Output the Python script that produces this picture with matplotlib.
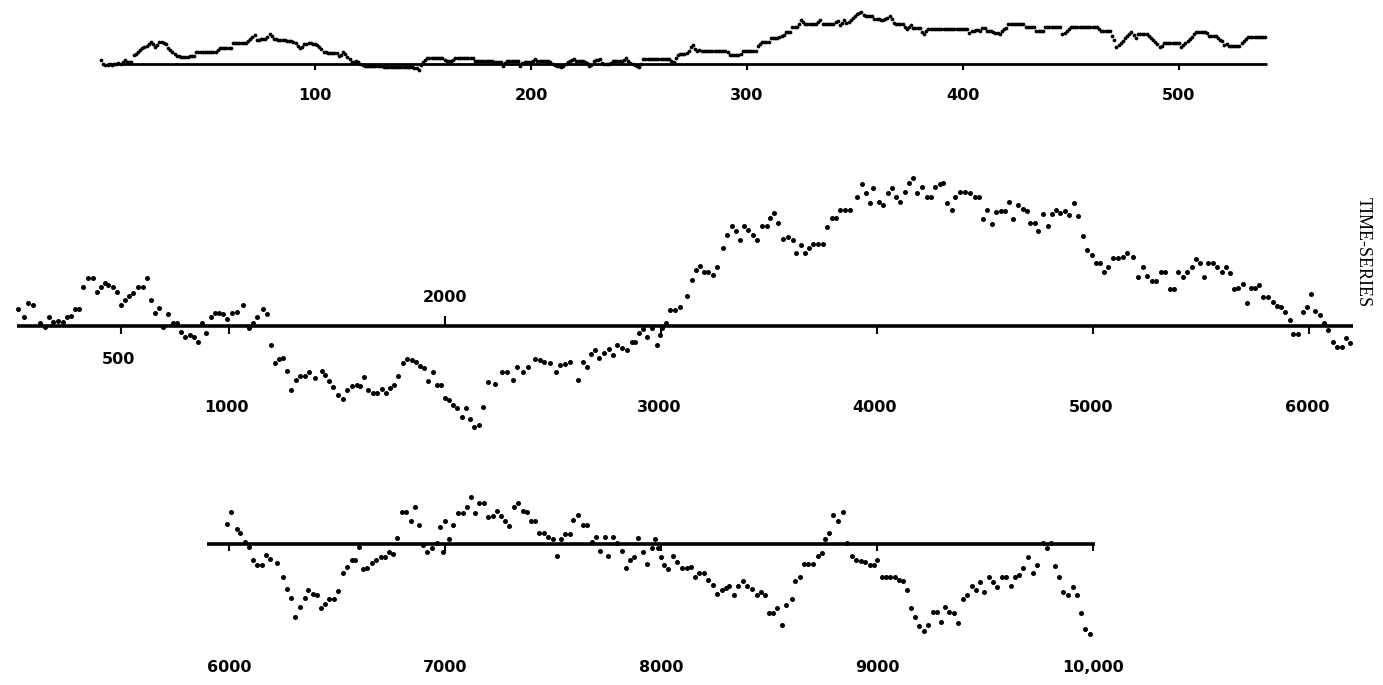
import numpy as np
import matplotlib
matplotlib.use("Agg")
import matplotlib.pyplot as plt

W, H = 1383, 685

# ---------------- data ----------------
# top panel: observations 1..540 (height above the baseline)
top_values = [
    4,
    0, -1, -1, 0, -1, 0, 0, 1, 0,
    2, 4, 2, 2, 2,
    9, 10, 12, 14, 16, 17, 18, 20, 22,
    20, 17, 19, 22, 22, 21, 20, 16, 14, 12, 10,
    8, 8, 7, 7, 7, 7, 8, 8, 8,
    12, 12, 12, 12, 12, 12, 12, 12, 12, 12,
    14, 16, 16, 16, 16, 16, 16,
    21, 21, 21, 21, 21, 21, 21, 23, 25, 27, 29,
    24, 24, 25, 25, 25, 27, 30, 28,
    25, 25, 24, 24, 24, 24, 23, 23, 23, 22, 21, 18, 16, 17,
    20, 20, 21, 21, 20, 20, 19, 17, 15,
    12, 12, 11, 11, 11, 11, 11,
    8, 9, 12, 10, 7, 5, 2, 2, 3, 2, 0,
    -1, -2, -2, -2, -2, -2, -2, -2, -2, -2, -3, -3, -3, -3, -3, -3, -3, -3, -3, -3, -3, -3, -3, -3, -4, -4,
    -6, -1, 2, 4,
    6, 6, 6, 6, 6, 6, 6, 6,
    4, 3, 3, 3, 4,
    6, 6, 6, 6, 6, 6, 6, 6, 6,
    3, 3, 3, 3, 3, 3, 3, 3, 3, 2, 2, 2, 2,
    -2, 1, 3, 3, 3, 3, 3,
    3, -2, 1, 2, 2, 2, 2, 3,
    5, 3, 3, 3, 3, 3, 3, 2,
    0, -1, -2, -2, -3, -2, 0,
    2, 3, 4, 5, 3, 3, 3, 3, 2, 1,
    -2, -1, 3, 4, 4, 5, 1, 0, 0, 0, 1,
    3, 3, 3, 3, 3, 4, 6, 3,
    1, 0, -1, -2, -3, 0,
    5, 5, 5, 5, 5, 5, 5, 5, 5, 5, 5, 5, 5,
    3, 2, 6, 9, 10, 10, 10, 11, 13, 17, 19, 15,
    13, 14, 13, 13, 13, 13, 13, 13, 13, 13, 13, 13, 13, 13, 12,
    9, 9, 9, 9, 9, 10,
    13, 13, 13, 13, 13, 13, 13,
    18, 20, 22, 22, 22, 22, 26, 26, 26, 26, 27, 28, 29,
    32, 32, 32, 37, 37, 37, 40, 44, 42,
    40, 40, 40, 40, 40, 40, 42, 44,
    40, 40, 40, 40, 40, 40, 42, 43, 39, 41, 44,
    41, 42, 44, 46, 48, 50, 51, 52,
    49, 48, 48, 48, 48, 45, 45, 45, 44, 44, 45,
    46, 48, 45, 41, 40, 40, 40, 40,
    37, 35, 37, 39, 36, 36, 36, 36, 32, 30, 33,
    35, 35, 35, 35, 35, 35, 35, 35, 35, 35, 35, 35, 35, 35, 35, 35, 35, 35, 35,
    31, 33, 33, 34, 34, 33, 36, 36,
    33, 33, 33, 32, 31, 31, 30, 33, 35, 36,
    40, 40, 40, 40, 40, 40, 40, 40, 37, 37, 37, 37, 37,
    33, 33, 33, 33, 37, 37, 37, 37, 37, 37, 37, 37,
    30, 31, 33, 35,
    37, 37, 37, 37, 37, 37, 37, 37, 37, 37, 37, 37, 37,
    35, 33, 33, 33, 33, 33,
    28, 24, 17, 19, 21, 23, 26, 28, 30, 32, 29, 26,
    30, 30, 30, 30, 30, 28, 26, 24, 22, 20, 17, 18,
    21, 21, 21, 21, 21, 21, 21, 21,
    17, 19, 21, 23, 25, 27,
    30, 32, 32, 32, 32, 32, 31,
    28, 28, 28, 28, 26, 24, 23, 19, 20,
    18, 18, 18, 18, 18, 18, 21, 23, 25,
    27, 27, 27, 27, 27, 27, 27, 27, 27,
]
top_ticks = [100, 200, 300, 400, 500]
top_labels = ["100", "200", "300", "400", "500"]

# middle panel: 0 .. 6200
mid_t = [24, 51, 71, 91, 125, 148, 168, 187, 210, 233, 248, 267, 287, 307, 326, 349, 369, 387, 406, 426,
         441, 461, 480, 498, 518, 538, 557, 580, 600, 619, 637, 657, 677, 696, 719, 739, 758, 778, 796, 819,
         838, 858, 873, 893, 915, 935, 955, 974, 992, 1015, 1035, 1066, 1094, 1112, 1131, 1159, 1174,
         1193, 1213, 1232, 1248, 1270, 1285, 1310, 1329, 1352, 1372, 1398, 1429, 1444, 1464, 1480, 1506, 1526,
         1545, 1568, 1591, 1606, 1625, 1645, 1668, 1687, 1707, 1727, 1745, 1764, 1784, 1804, 1822, 1845, 1865,
         1884, 1903, 1923, 1943, 1961, 1980, 2000, 2020, 2038, 2054, 2077, 2097, 2116, 2134, 2159, 2177, 2201,
         2231, 2262, 2285, 2316, 2332, 2360, 2386, 2417, 2440, 2458, 2486, 2514, 2532, 2555, 2579, 2614, 2637,
         2656, 2674, 2694, 2714, 2736, 2761, 2776, 2795, 2818, 2841, 2864, 2880, 2900, 2918, 2937, 2957, 2980,
         2995, 3003, 3023, 3042, 3065, 3088, 3119, 3142, 3162, 3181, 3199, 3219, 3239, 3261, 3285, 3304, 3327,
         3347, 3366, 3384, 3404, 3424, 3446, 3466, 3489, 3505, 3523, 3543, 3563, 3589, 3609, 3625, 3646, 3667,
         3687, 3705, 3728, 3748, 3767, 3790, 3810, 3829, 3852, 3875, 3906, 3929, 3949, 3968, 3983, 4011, 4029,
         4052, 4068, 4088, 4106, 4129, 4150, 4168, 4187, 4207, 4230, 4248, 4268, 4292, 4307, 4326, 4346, 4361,
         4384, 4407, 4431, 4454, 4474, 4489, 4511, 4531, 4551, 4573, 4593, 4613, 4631, 4651, 4674, 4693, 4708,
         4731, 4747, 4770, 4790, 4809, 4829, 4847, 4870, 4890, 4912, 4932, 4952, 4971, 4994, 5014, 5032, 5051,
         5071, 5094, 5117, 5137, 5159, 5184, 5210, 5233, 5252, 5272, 5292, 5313, 5333, 5357, 5375, 5395, 5415,
         5437, 5457, 5477, 5495, 5514, 5534, 5557, 5576, 5596, 5616, 5634, 5653, 5673, 5693, 5711, 5730, 5750,
         5770, 5789, 5812, 5832, 5850, 5869, 5889, 5912, 5927, 5951, 5974, 5989, 6008, 6028, 6051, 6069, 6090,
         6110, 6131, 6151, 6171, 6190]
mid_v = [17, 9, 23, 21, 3, -1, 9, 4, 5, 4, 9, 10, 17, 17, 39, 48, 48, 34, 39, 43,
         41, 39, 34, 21, 26, 30, 33, 39, 39, 48, 26, 13, 18, -1, 12, 3, 3, -6, -11, -9,
         -11, -16, 3, -7, 9, 13, 13, 12, 7, 13, 14, 21, -2, 3, 9, 17, 12,
         -19, -37, -33, -32, -45, -64, -54, -50, -50, -46, -52, -45, -49, -55, -61, -69, -73,
         -64, -60, -59, -60, -51, -64, -67, -67, -63, -67, -62, -59, -50, -37, -33, -34, -36,
         -40, -42, -55, -46, -59, -59, -72, -74, -79, -82, -91, -82, -93, -101, -99, -81, -56,
         -58, -46, -46, -54, -41, -46, -41, -33, -34, -36, -37, -46, -39, -38, -36, -54, -36,
         -41, -28, -24, -32, -27, -23, -29, -19, -22, -24, -16, -16, -7, -3, -11, -2, -19,
         -9, -2, 3, 16, 16, 19, 30, 46, 56, 60, 54, 54, 51, 59, 78, 91, 100,
         95, 86, 100, 96, 91, 86, 100, 100, 108, 113, 103, 87, 89, 86, 73, 81, 73,
         78, 82, 82, 82, 99, 108, 108, 116, 116, 116, 129, 142, 133, 123, 138, 124, 121,
         133, 138, 129, 124, 134, 143, 148, 133, 139, 129, 129, 139, 142, 143, 123, 116, 129,
         134, 134, 133, 129, 129, 107, 116, 102, 114, 115, 115, 124, 107, 121, 117, 115, 103,
         103, 95, 112, 100, 112, 116, 113, 115, 111, 123, 110, 90, 76, 71, 63, 63, 54,
         59, 68, 68, 69, 73, 69, 49, 59, 50, 45, 45, 54, 54, 37, 37, 54, 49,
         54, 59, 67, 63, 49, 63, 63, 59, 54, 59, 53, 37, 38, 42, 23, 38, 38,
         41, 29, 29, 24, 20, 19, 14, 6, -8, -8, 14, 19, 32, 15, 11, 3, -4,
         -16, -21, -21, -12, -17]
mid_ticks = [500, 1000, 2000, 3000, 4000, 5000, 6000]
mid_labels = ["500", "1000", "2000", "3000", "4000", "5000", "6000"]

# bottom panel: 6000 .. 10,000
bot_t = [5989, 6008, 6035, 6051, 6074, 6094, 6113, 6128, 6151, 6171, 6190, 6221, 6248, 6267, 6285, 6305,
         6329, 6352, 6367, 6387, 6406, 6424, 6444, 6464, 6486, 6506, 6526, 6545, 6568, 6583, 6603, 6622,
         6640, 6660, 6681, 6702, 6722, 6742, 6761, 6779, 6799, 6819, 6841, 6861, 6881, 6900, 6918, 6938,
         6961, 6977, 6989, 7000, 7020, 7039, 7062, 7082, 7100, 7120, 7139, 7159, 7181, 7201, 7221, 7239,
         7258, 7278, 7298, 7319, 7339, 7360, 7378, 7397, 7417, 7437, 7458, 7478, 7498, 7517, 7535, 7555,
         7579, 7594, 7617, 7640, 7659, 7679, 7699, 7718, 7741, 7756, 7776, 7798, 7818, 7838, 7856, 7875,
         7895, 7918, 7937, 7957, 7972, 7988, 7998, 8014, 8034, 8054, 8073, 8096, 8119, 8137, 8157, 8178,
         8199, 8219, 8239, 8258, 8281, 8301, 8316, 8338, 8358, 8378, 8397, 8420, 8443, 8461, 8482, 8502,
         8520, 8539, 8559, 8579, 8605, 8620, 8644, 8662, 8682, 8705, 8728, 8744, 8759, 8779, 8798, 8821,
         8841, 8863, 8883, 8903, 8924, 8945, 8968, 8986, 9002, 9022, 9042, 9060, 9083, 9103, 9122, 9140,
         9156, 9176, 9196, 9218, 9238, 9258, 9276, 9295, 9315, 9335, 9356, 9377, 9397, 9418, 9438, 9458,
         9477, 9495, 9520, 9539, 9557, 9577, 9597, 9619, 9639, 9659, 9677, 9700, 9724, 9742, 9767, 9786,
         9804, 9824, 9844, 9863, 9886, 9906, 9924, 9943, 9963, 9986]
bot_v = [20, 32, 15, 11, 2, -3, -16, -21, -21, -11, -15, -19, -33, -45, -54, -73,
         -63, -54, -46, -50, -51, -64, -60, -55, -55, -47, -29, -23, -16, -16, -3, -25,
         -24, -19, -16, -13, -13, -8, -10, 6, 32, 32, 23, 37, 19, -1, -8, -4,
         1, 17, -8, 23, 5, 19, 31, 31, 37, 47, 31, 41, 41, 27, 28, 33,
         28, 23, 18, 37, 41, 33, 32, 23, 23, 11, 11, 7, 5, -12, 5, 10,
         10, 24, 29, 19, 19, 2, 7, -7, 7, -12, 7, 1, -7, -24, -16, -13,
         6, -8, -20, -4, 5, -4, -13, -21, -25, -12, -18, -24, -24, -23, -33, -29,
         -29, -36, -41, -50, -46, -44, -42, -51, -42, -37, -42, -45, -51, -48, -51, -69,
         -69, -64, -81, -61, -55, -37, -33, -20, -20, -20, -12, -9, 5, 11, 29, 23,
         32, 1, -12, -16, -17, -18, -21, -21, -16, -33, -33, -33, -33, -36, -37, -46,
         -64, -73, -82, -87, -81, -68, -68, -78, -63, -68, -69, -79, -55, -51, -42, -46,
         -38, -48, -33, -38, -43, -33, -33, -42, -33, -31, -24, -13, -29, -21, 1, -4,
         1, -22, -33, -48, -51, -43, -51, -69, -85, -90]
bot_ticks = [6000, 7000, 8000, 9000, 10000]
bot_labels = ["6000", "7000", "8000", "9000", "10,000"]

# ---------------- figure ----------------
fig = plt.figure(figsize=(W / 100, H / 100), dpi=100)
fig.patch.set_facecolor("white")


def panel(zero_px, px_per_unit, base_px):
    ax = fig.add_axes([0, 0, 1, 1])
    ax.set_xlim(-zero_px / px_per_unit, (W - zero_px) / px_per_unit)
    ax.set_ylim(base_px - H, base_px)
    ax.axis("off")
    ax.patch.set_alpha(0)
    return ax


LBL = dict(ha="center", va="center", fontsize=11.5, fontweight="bold",
           family="DejaVu Sans", color="black")

# top
ax_t = panel(99, 2.16, 64)
top_x = np.arange(1, len(top_values) + 1)
ax_t.plot([3.7, 540.7], [0, 0], color="black", lw=2.0, solid_capstyle="butt")
ax_t.vlines(top_ticks, 0, -6, color="black", lw=1.5)
ax_t.plot(top_x, top_values, "o", ms=2.7, mew=0, color="black")
for t, lab in zip(top_ticks, top_labels):
    ax_t.text(t, -31, lab, **LBL)

# middle
ax_m = panel(13, 0.216, 326)
ax_m.plot([18, 6205], [0, 0], color="black", lw=2.6, solid_capstyle="butt")
for t, lab in zip(mid_ticks, mid_labels):
    if lab == "2000":
        ax_m.vlines(t, 0, 10, color="black", lw=1.5)
        ax_m.text(t, 28, lab, **LBL)
    elif lab == "500":
        ax_m.vlines(t, 0, -8, color="black", lw=1.5)
        ax_m.text(t - 10, -34, lab, **LBL)
    else:
        ax_m.vlines(t, 0, -8, color="black", lw=1.5)
        ax_m.text(t - 10, -81, lab, **LBL)
ax_m.plot(mid_t, mid_v, "o", ms=3.6, mew=0, color="black")

# bottom
ax_b = panel(229 - 6000 * 0.216, 0.216, 544)
ax_b.plot([5898, 10010], [0, 0], color="black", lw=2.6, solid_capstyle="butt")
ax_b.vlines(bot_ticks, 0, -7, color="black", lw=1.5)
ax_b.plot(bot_t, bot_v, "o", ms=3.6, mew=0, color="black")
for t, lab in zip(bot_ticks, bot_labels):
    ax_b.text(t, -123, lab, **LBL)

fig.text(1363 / W, 1 - 252 / H, "TIME-SERIES", rotation=270, ha="center", va="center",
         fontsize=13, family="Liberation Serif", color="black")

fig.savefig("out.png", dpi=100, facecolor="white")
